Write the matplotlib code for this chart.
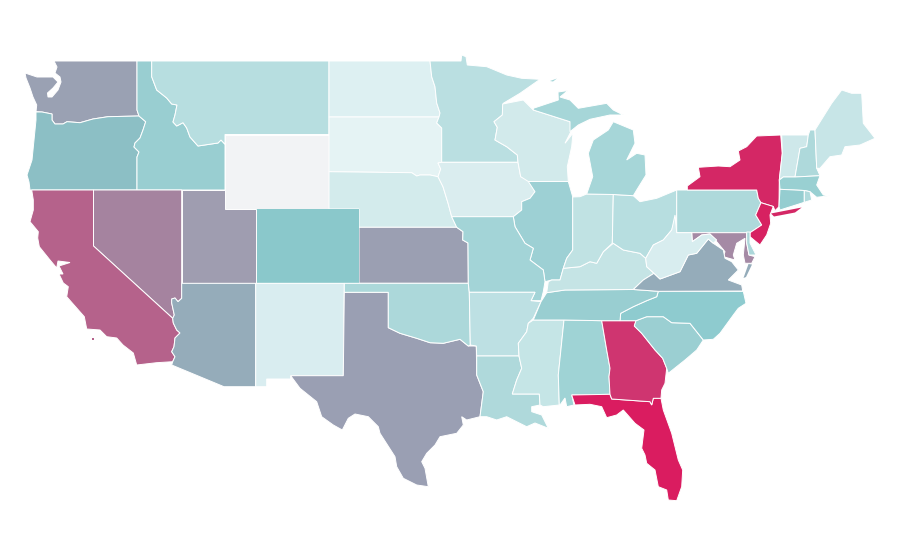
import matplotlib
matplotlib.use("Agg")
import matplotlib.pyplot as plt

# state outlines (x right, y down)
WA = [(54,61),(137,61),(137,110),(139,116),(108,116.7),(93,119),(80,122.7),(67,121.7),(63,124),(55,124),(52,120),(52,114),(42,112),(36,111.7),(36.7,105),(33,97),(30,88),(26,78),(25,73),(37,77),(47,77),(53,77),(58,82),(53,88),(47.5,93),(48,97),(52,97),(58,90),(61,82),(60,77),(55,73),(57,67)]
OR = [(36,112),(42,112),(52,114),(52,120),(55,124),(63,124),(67,121.7),(80,122.7),(93,119),(108,116.7),(139,116),(145.7,121.7),(143,130),(140,138),(135,143),(134,147),(139,152),(137,157),(137,190),(30,190),(29,182),(27,175),(32,160),(34,140),(36,120)]
ID = [(137,61),(151.7,61),(151.7,76.7),(156.7,90),(166.7,98),(171.7,104),(177,105),(175,115),(173,122),(176.7,126),(183,122.7),(186.7,128),(190,137),(198,146),(218,143),(221,140),(225,144.3),(225,190),(137,190),(137,157),(139,152),(134,147),(135,143),(140,138),(143,130),(145.7,121.7),(139,116),(137,110)]
MT = [(151.7,61),(329,61),(329,134.5),(225,134.5),(225,144.3),(221,140),(218,143),(198,146),(190,137),(186.7,128),(183,122.7),(176.7,126),(173,122),(175,115),(177,105),(171.7,104),(166.7,98),(156.7,90),(151.7,76.7)]
WY = [(225,134.5),(329,134.5),(329,209),(225,209)]
ND = [(329,61),(430,61),(431.7,76.7),(435,86.7),(436.7,103),(440,113),(439,117),(329,117)]
SD = [(329,117),(439,117),(436.7,123),(441.7,128),(441.7,162.3),(438,163),(440.7,169),(438,176.7),(430,175),(420,175),(416.7,176),(411.7,172.7),(329,171.7)]
NE = [(329,171.7),(411.7,172.7),(416.7,176),(420,175),(430,175),(438,176.7),(443,186.7),(448,203),(451.7,216.7),(456.7,227.3),(359,227.3),(359,209),(329,209)]
KS = [(359,227.3),(456.7,227.3),(463,231.7),(462.7,240),(468,243),(468.3,283.3),(359,283.3)]
CO = [(255.7,209),(359,209),(359,283.3),(255.7,283.3)]
UT = [(181.7,190),(225,190),(225,209),(255.7,209),(255.7,283.3),(181.7,283.3)]
NV = [(93.5,190),(181.7,190),(181.7,298.3),(178,301.7),(175,298),(171.7,299),(171.7,303),(174.3,315),(172.7,318.3),(93.5,246)]
CA = [(31.7,190),(93.5,190),(93.5,246),(172.7,318.3),(173.3,323),(176.7,330),(180,333),(175,338),(174,346.7),(171.7,351.7),(175,356.7),(172.7,361.7),(156.7,362.7),(136.7,365),(133.3,353),(123,345),(116.7,338),(106.7,336.7),(100,330),(86.7,329),(84.3,316.7),(66.7,296.7),(68.3,286.7),(63.3,283),(59,274),(63,274),(59,266),(70,262.5),(58,261),(56.7,268),(50,260),(39.3,246.7),(37.7,238),(38.3,231.7),(30,221.7),(33.3,210),(33.3,200)]
CA_ISLAND = [(91.5,338),(94,338),(94,340),(91.5,340)]
AZ = [(181.7,283.3),(255.7,283.3),(255.7,386.7),(224,386.7),(171.7,365),(172.7,361.7),(175,356.7),(171.7,351.7),(174,346.7),(175,338),(180,333),(176.7,330),(173.3,323),(172.7,318.3),(174.3,315),(171.7,303),(171.7,299),(175,298),(178,301.7),(181.7,298.3)]
NM = [(255.7,283.3),(344.3,283.3),(343.3,375.7),(290.7,375.7),(290.7,379),(266.7,379),(266.7,386.7),(255.7,386.7)]
TX = [(344.3,292.3),(388.3,292.3),(388.3,327.7),(400,333.3),(416.7,338.3),(430,342.7),(443.3,343.3),(460,339.3),(468.3,346),(476.3,346),(476.7,375),(483.3,391.7),(480,416.7),(466.7,420),(461.7,416.7),(463.3,425),(456.7,433.3),(440,436.7),(435,445),(426.7,453.3),(421.7,461.7),(425,468.3),(428.3,486.7),(416.7,485),(403.3,478.3),(396.7,466.7),(395,456.7),(380,433.3),(378.3,426.7),(368.3,416.7),(355,414),(348.3,418.3),(342.3,430),(333.3,425),(321.7,416.7),(316.7,401.7),(300,388.3),(290.7,375.7),(343.3,375.7)]
OK = [(344.3,283.3),(468.3,283.3),(469.3,292.3),(470.3,345),(468.3,346),(460,339.3),(443.3,343.3),(430,342.7),(416.7,338.3),(400,333.3),(388.3,327.7),(388.3,292.3),(344.3,292.3)]
MN = [(430,61),(461,61),(461.7,55),(466,56.7),(467.3,65),(486.7,66.7),(506.7,75),(521.7,78.3),(540,79.3),(520,93.3),(503.3,103.3),(502.3,115),(494,121.7),(497.3,127.3),(495,140),(506.7,146.7),(517.3,155),(518,162.3),(441.7,162.3),(441.7,128),(436.7,123),(439,117),(440,113),(436.7,103),(435,86.7),(431.7,76.7)]
IA = [(441.7,162.3),(518,162.3),(520.7,176.7),(528.3,180),(535,191.7),(530,198.3),(521.7,201.7),(521.7,210),(513.3,216.7),(451.7,216.7),(448,203),(443,186.7),(438,176.7),(440.7,169),(438,163)]
WI = [(502.7,104),(523.3,100),(533.3,110),(570,121.7),(571.7,130),(565,143.3),(573,133),(571.7,146.7),(567.3,166.7),(568.3,181.5),(528.3,181.5),(520.7,176.7),(518,162.3),(517.3,155),(506.7,146.7),(495,140),(497.3,127.3),(494,121.7),(502.3,115)]
IL = [(528.3,181.5),(568.3,181.5),(572.7,196.7),(572.7,250),(566.7,258.3),(563.3,268.3),(560,280),(551.7,280),(545,281.7),(543.3,270),(530,260),(533.3,248.3),(525,243.3),(515,226.7),(513.3,216.7),(521.7,210),(521.7,201.7),(530,198.3),(535,191.7)]
MO = [(451.7,216.7),(513.3,216.7),(515,226.7),(525,243.3),(533.3,248.3),(530,260),(543.3,270),(545,281.7),(543.3,291.7),(541,300.7),(531,300.7),(535,292.3),(469.3,292.3),(468.3,283.3),(468,243),(462.7,240),(463,231.7),(456.7,227.3)]
AR = [(469.3,292.3),(535,292.3),(531,300.7),(541,301.7),(533.3,318.3),(528.3,323.3),(526.7,331.7),(518.3,343.3),(519,356),(476.7,356),(476.3,346),(470.3,345)]
LA = [(476.7,356),(519,356),(521.7,368.3),(516.7,380),(512.3,394),(539.3,394),(540,405),(531.7,406.7),(531.7,411.7),(541.7,415),(548.3,428.3),(535,423),(526.7,426.7),(513.3,420),(506.7,416.7),(496.7,420),(486.7,416.7),(480,416.7),(483.3,391.7),(476.7,375)]
MS = [(533.3,320),(564,320),(558.3,375),(559.3,405),(543.3,406.7),(540,405),(539.3,394),(512.3,394),(516.7,380),(521.7,368.3),(519,356),(518.3,343.3),(526.7,331.7),(528.3,323.3)]
AL = [(564,320),(601.7,320.7),(606.7,350),(610,368.3),(609,376.7),(610,394.3),(571.7,395),(574,405),(566.7,406.7),(565,398),(560,405),(559.3,405),(558.3,375)]
FL = [(571.7,395),(610,394.3),(611.7,399),(650,401.7),(651.7,405),(653.3,398.3),(661,398.3),(663.3,410),(671.7,433.3),(678.3,460),(682.7,470),(681.7,486.7),(676.7,500.7),(668.3,500),(666.7,490),(658.3,486.7),(655,470),(646.7,463.3),(645,455),(641.7,448.3),(644,430),(635,423.3),(623.3,410),(616.7,415),(606.7,417.7),(601.7,406.7),(590,404.3),(575,405)]
GA = [(601.7,320.7),(636,320.7),(634.3,326),(641.7,333.3),(655,350),(662.7,358.3),(666.7,368.3),(665,383.3),(661.7,390),(661,398.3),(653.3,398.3),(651.7,405),(650,401.7),(611.7,399),(610,394.3),(609,376.7),(610,368.3),(606.7,350)]
SC = [(636,320.7),(646.7,316.7),(663.3,316.7),(671.7,322.7),(690,323.3),(703.3,340),(696.7,350),(685,360),(668.3,373.3),(666.7,368.3),(662.7,358.3),(655,350),(641.7,333.3),(634.3,326)]
NC = [(658.3,291.3),(743.3,291.3),(746,303.3),(738.3,308.3),(733.3,315),(720,333.3),(713.3,339.3),(703.3,340),(690,323.3),(671.7,322.7),(663.3,316.7),(646.7,316.7),(636,320.7),(620,320.7),(620.7,313.3),(633.3,306.7),(646.7,300.7),(656.7,296.7)]
TN = [(546.7,292.7),(565,290),(633.3,289.5),(658.3,291.3),(656.7,296.7),(646.7,300.7),(633.3,306.7),(620.7,313.3),(620,320.7),(601.7,320.7),(564,320),(533.3,320),(541,301.7)]
KY = [(548.3,281.7),(551.7,280),(560,280),(563.3,268.3),(580,266.7),(590,261.7),(596.7,263.3),(603.3,251.7),(613.3,243.3),(623.3,250),(640,253.3),(645.7,258.3),(646.7,266.7),(654,273.3),(643.3,280),(633.3,289.5),(565,290),(546.7,292.7)]
IN = [(572.7,197),(580,196.7),(586.7,194),(613.3,194.5),(612.3,243.3),(603.3,251.7),(596.7,263.3),(590,261.7),(580,266.7),(563.3,268.3),(566.7,258.3),(572.7,250)]
OH = [(613.3,194.5),(633.3,195.7),(640,201.7),(656.7,198.3),(676.7,190),(676.7,215),(671.7,230),(663.3,240),(653.3,245),(645.7,258.3),(640,253.3),(623.3,250),(613.3,243.3),(612.3,243.3)]
MI_LOWER = [(586.7,194),(613.3,194.5),(633.3,195.7),(636.7,190),(646,175),(645,155),(636.7,153.3),(626.7,160),(635,143.3),(633.3,130),(613.3,121.7),(608.3,130),(593.3,140),(588.3,153.3),(592.7,176.7)]
MI_UPPER = [(533.3,108.3),(558.3,100),(558,92),(568,90.5),(560,97),(570,100),(578.3,108.3),(606.7,103.3),(613.3,110),(623.3,115),(610,115),(590,119.3),(578.3,125),(570,131.7),(570,121.7),(533.3,110)]
MI_ISLE = [(550,81),(557,78.5),(553,81.5)]
PA = [(676.7,190),(687.3,190),(756.7,190),(758.3,198.3),(761,202.7),(755.7,215),(761.7,225),(750,232.7),(676.7,232.7)]
NY = [(687.3,190),(687.3,186),(700,176.7),(698.3,167.3),(718.3,166),(730,166.7),(740,160),(738.3,151),(746.7,146.7),(756.7,136),(780.7,135),(782.3,153.3),(779.3,180),(779,206.7),(775,210.7),(773.3,206.5),(761,202.7),(758.3,198.3),(756.7,190)]
NY_LONG_ISLAND = [(771,213.5),(801.7,207.5),(795,212.5),(774,216.5)]
NJ = [(761,202.7),(773.3,206.5),(770,215),(770.7,223.3),(766.7,235),(760,245),(750,236.7),(750,232.7),(761.7,225),(755.7,215)]
VT = [(781.7,135),(808.3,135),(806.7,146.7),(800,148.3),(795,177),(783.3,177),(779.3,180),(782.3,153.3)]
NH = [(808.3,135),(810,130),(815,130),(816.7,168.3),(820,175.7),(795,177),(800,148.3),(806.7,146.7)]
ME = [(815,130),(831.7,103.3),(841.7,90),(851.7,93.3),(861.7,93.3),(863.3,123.3),(875,138.3),(860,145),(845,146.7),(841.7,155),(830,156.7),(820,168.3),(816.7,168.3)]
MA = [(783.3,177),(795,177),(820,175.7),(816.7,185),(823.3,195),(830,195.7),(816.7,197.3),(810,191.7),(804.3,190.5),(780,189.3),(779.3,180)]
CT = [(780,189.3),(804.3,190.5),(804.3,202.3),(780,210),(779,206.7)]
RI = [(804.3,190.5),(810,191.7),(811.7,200),(804.3,202.3)]
MD = [(691.7,232.7),(746.7,232.7),(746.7,243),(749,255),(755,256.7),(751.7,263.3),(745,263.3),(743.3,255),(745,238.3),(736.7,243.3),(733.3,255),(735,260),(723.3,256.7),(725,251.7),(716.7,241.7),(710,234),(701.7,235),(692.3,241.7)]
DE = [(746.7,232),(750,232),(750,243),(756,255),(749,255),(746.7,243)]
VA = [(633.3,289.5),(643.3,280),(654,273.3),(660,279),(680,271.7),(688.3,255),(696.7,253.3),(708.3,239),(713.3,243.3),(723.3,250),(725,258.3),(731.7,261.7),(738.3,270),(728.3,280),(741.7,285),(742.7,291),(658.3,291.3)]
VA_SHORE = [(748.5,264),(752,264.5),(746,277),(743.5,278)]
WV = [(675,215),(676.7,232.7),(691.7,232.7),(692.3,241.7),(701.7,235),(710,234),(716.7,240),(713.3,243.3),(708.3,239),(696.7,253.3),(688.3,255),(680,271.7),(660,279),(654,273.3),(646.7,266.7),(645.7,258.3),(653.3,245),(663.3,240),(671.7,230)]

shapes = [WA,OR,ID,MT,WY,ND,SD,NE,KS,CO,UT,NV,CA,CA_ISLAND,AZ,NM,TX,OK,MN,IA,WI,IL,MO,AR,LA,MS,AL,FL,GA,SC,NC,TN,KY,IN,OH,
          MI_LOWER,MI_UPPER,MI_ISLE,PA,NY,NY_LONG_ISLAND,NJ,VT,NH,ME,MA,CT,RI,MD,DE,VA,VA_SHORE,WV]
colors = ["#9aa1b3","#8cbfc5","#99ced1","#b7dee0","#f2f3f5","#ddf0f2","#e5f3f4","#d3ebec","#9b9fb2","#8ac8cb","#9f9db0","#a5839f","#b5628b","#b5628b","#95acba","#d9edf0","#9a9fb3","#acd8da","#badfe1","#daedef","#d2eaeb","#9dd0d4","#a3d4d7","#bde0e3","#afd9db","#c5e5e6","#9fd3d5","#da1c60","#cf3570","#9bcfd2","#8ecbcf","#99ced1","#c5e4e5","#c0e2e3","#b7dee0",
          "#a6d6d8","#a6d6d8","#a6d6d8","#aed9db","#d42765","#d42765","#d72161","#cee8ea","#aed9db","#c7e5e7","#99d0d2","#95cdd0","#b0dadc","#a58aa5","#acd7da","#95acba","#95acba","#d8edef"]

fig = plt.figure(figsize=(9, 5.6), dpi=100)
ax = fig.add_axes([0, 0, 1, 1])
for shape, color in zip(shapes, colors):
    xs = [p[0] for p in shape]
    ys = [p[1] for p in shape]
    # small islands would vanish under a white edge
    if len(shape) <= 4 and shape is not WY and shape is not RI:
        ax.fill(xs, ys, facecolor=color, edgecolor="none")
    else:
        ax.fill(xs, ys, facecolor=color, edgecolor="white", linewidth=0.7)
ax.set_xlim(0, 900)
ax.set_ylim(560, 0)
ax.axis("off")
fig.savefig("out.png", dpi=100)
